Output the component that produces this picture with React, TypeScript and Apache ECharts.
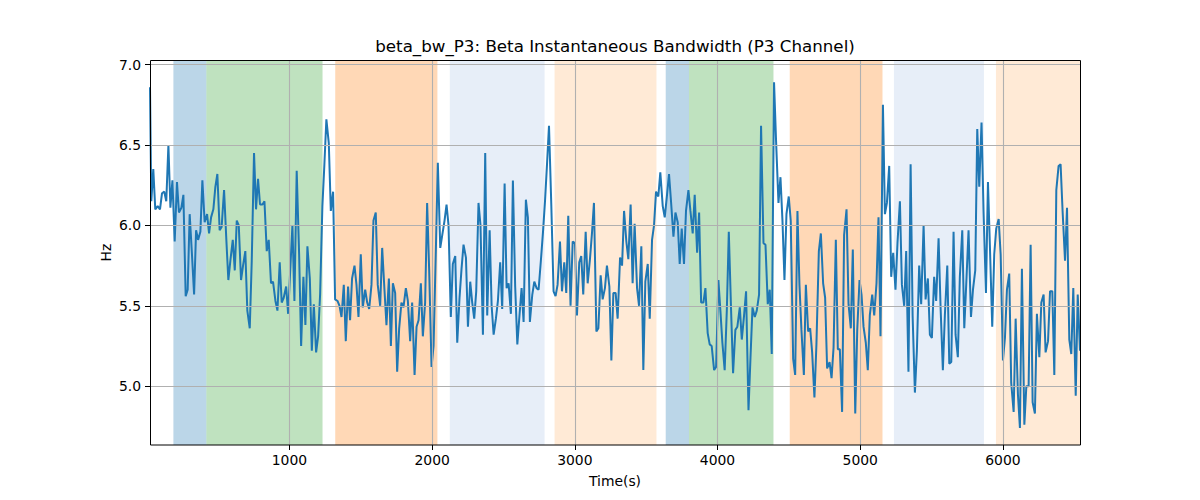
import React, { useEffect, useRef } from "react";
import * as echarts from "echarts";

// [time (s), bandwidth (Hz)]
const betaBw: [number, number][] = [
  [23,6.86],[32,6.15],[46,6.35],[60,6.10],[77,6.12],[93,6.10],[107,6.20],[123,6.21],[137,6.15],[152,6.50],
  [166,6.11],[180,6.28],[196,5.90],[212,6.27],[226,6.08],[243,6.11],[257,6.19],[273,5.56],[287,5.60],[301,6.07],
  [317,5.82],[332,5.57],[346,5.97],[360,5.91],[376,5.96],[390,6.28],[406,6.02],[423,6.07],[437,5.95],[451,6.05],
  [467,6.10],[481,6.24],[495,6.32],[511,5.97],[525,5.99],[542,6.22],[558,5.91],[572,5.66],[586,5.78],[603,5.91],
  [617,5.72],[631,6.03],[645,6.00],[661,5.66],[675,5.75],[691,5.84],[705,5.47],[722,5.36],[736,5.78],[752,6.45],
  [766,6.10],[780,6.29],[794,6.13],[811,6.13],[825,6.15],[841,5.84],[855,5.91],[871,5.64],[885,5.65],[902,5.53],
  [916,5.47],[932,5.77],[946,5.52],[960,5.55],[977,5.62],[991,5.45],[1005,5.71],[1021,6.00],[1035,5.53],[1051,6.34],
  [1068,5.82],[1082,5.25],[1098,5.68],
  [1112,5.38],[1126,5.87],[1143,5.67],[1157,5.22],[1171,5.51],[1187,5.21],[1201,5.31],[1215,5.57],[1231,6.12],[1245,6.38],
  [1259,6.66],[1276,6.51],[1290,6.09],[1306,6.21],[1320,5.54],[1337,5.53],[1351,5.50],[1365,5.43],[1381,5.63],[1395,5.28],
  [1411,5.62],[1425,5.41],[1439,5.67],[1456,5.75],[1470,5.63],[1484,5.43],[1500,5.82],[1514,5.49],[1531,5.60],[1545,5.52],
  [1559,5.48],[1575,5.63],[1589,6.03],[1605,6.08],[1619,5.63],[1636,5.50],[1650,5.86],[1666,5.60],[1680,5.38],[1697,5.67],
  [1711,5.25],[1725,5.64],[1741,5.58],[1755,5.09],[1769,5.36],[1785,5.52],[1799,5.49],[1816,5.61],[1830,5.53],[1846,5.28],
  [1860,5.52],[1877,5.07],[1891,5.37],[1905,5.41],[1921,5.64],[1935,5.31],[1951,5.52],[1965,6.14],[1979,5.73],[1996,5.12],
  [2010,5.25],[2026,5.84],[2040,6.39],[2057,5.86],[2071,5.94],[2087,6.03],[2101,6.13],[2115,6.00],[2131,5.43],[2145,5.76],
  [2162,5.81],[2176,5.27],[2192,5.55],[2206,5.73],[2220,5.88],
  [2237,5.80],[2251,5.37],[2267,5.65],[2281,5.52],[2295,5.42],[2309,5.59],[2325,6.14],[2339,6.00],[2356,5.32],[2372,6.45],
  [2386,5.44],[2403,5.97],[2417,5.50],[2431,5.32],[2447,5.42],[2461,5.53],[2477,5.77],[2491,5.48],[2508,6.26],[2522,5.61],
  [2536,5.64],[2552,5.45],[2566,6.28],[2582,5.62],[2597,5.26],[2613,5.45],[2627,5.61],[2641,5.40],[2657,6.16],[2671,6.05],
  [2685,5.40],[2702,5.57],[2716,5.65],[2732,5.61],[2746,5.60],[2762,5.78],[2777,5.96],[2791,6.15],[2805,6.38],[2819,6.62],
  [2835,6.13],[2851,5.59],[2865,5.56],[2879,5.63],[2896,5.90],[2910,5.59],[2926,5.77],[2940,5.58],[2954,6.06],[2970,5.50],
  [2985,5.90],[3001,5.89],[3015,5.44],[3031,5.77],[3045,5.81],[3059,5.57],[3076,5.96],[3090,5.64],[3106,5.79],[3120,5.95],
  [3134,6.14],[3151,5.34],[3165,5.36],[3181,5.69],[3195,5.54],[3211,5.61],[3225,5.75],[3242,5.62],[3256,5.16],[3270,5.58],
  [3286,5.58],[3300,5.42],[3317,5.80],[3331,5.75],[3345,6.09],
  [3361,5.90],[3375,5.79],[3391,6.13],[3405,5.64],[3419,6.01],[3436,5.61],[3450,5.50],[3466,5.87],[3480,5.10],[3494,5.65],
  [3511,5.76],[3525,5.42],[3541,5.91],[3555,6.00],[3569,6.21],[3585,6.18],[3599,6.33],[3616,6.12],[3630,6.05],[3646,6.19],
  [3660,6.32],[3674,6.15],[3691,5.93],[3705,6.08],[3721,6.02],[3735,5.76],[3749,5.98],[3765,5.76],[3779,6.09],[3796,6.22],
  [3810,6.09],[3826,5.95],[3840,6.19],[3857,5.83],[3871,6.08],[3885,5.52],[3901,5.52],[3915,5.61],[3931,5.33],[3945,5.26],
  [3959,5.25],[3976,5.10],[3990,5.12],[4006,5.66],[4020,5.47],[4034,5.27],[4050,5.10],[4065,5.47],[4079,5.96],[4095,5.47],
  [4109,5.08],[4125,5.35],[4139,5.37],[4156,5.49],[4170,5.29],[4186,5.44],[4200,5.59],[4217,4.85],[4231,5.18],[4245,5.49],
  [4261,5.43],[4275,5.47],[4291,5.57],[4305,6.62],[4322,5.89],[4336,5.88],[4352,5.51],[4366,5.60],[4380,5.20],[4396,6.89],
  [4410,6.53],[4427,6.14],[4441,6.30],[4455,6.03],[4469,5.66],
  [4483,6.07],[4499,6.18],[4513,6.03],[4530,5.17],[4544,5.07],[4560,6.09],[4574,5.63],[4588,5.35],[4605,5.07],[4619,5.63],
  [4635,5.34],[4649,5.36],[4663,5.21],[4679,4.93],[4693,5.26],[4710,5.84],[4724,5.95],[4740,5.64],[4754,5.55],[4768,5.11],
  [4785,5.15],[4799,5.05],[4813,5.24],[4829,5.91],[4843,5.23],[4857,5.23],[4873,4.84],[4887,5.94],[4904,6.10],[4918,5.51],
  [4934,5.36],[4948,5.85],[4965,4.83],[4979,5.35],[4995,5.66],[5009,5.57],[5023,5.37],[5039,5.27],[5053,5.10],[5067,5.44],
  [5084,5.57],[5098,5.44],[5114,5.64],[5128,6.05],[5142,5.31],[5159,6.75],[5173,6.07],[5187,6.14],[5203,6.37],[5217,5.68],
  [5231,5.83],[5247,5.60],[5261,5.89],[5278,6.15],[5292,5.63],[5308,5.50],[5322,5.84],[5338,5.09],[5353,6.38],[5367,5.44],
  [5383,4.96],[5397,5.22],[5413,5.75],[5427,5.51],[5444,6.00],[5458,5.54],[5474,5.67],[5488,5.32],[5502,5.30],[5518,5.68],
  [5532,5.53],[5549,5.92],[5563,5.49],[5579,5.10],
  [5593,5.44],[5610,5.75],[5624,5.14],[5638,5.15],[5654,5.96],[5668,5.32],[5684,5.18],[5698,5.68],[5715,5.97],[5729,5.36],
  [5745,5.68],[5759,5.97],[5776,5.43],[5790,5.60],[5806,5.72],[5820,6.60],[5834,6.24],[5850,6.64],[5864,6.09],[5881,5.58],
  [5895,6.27],[5909,5.86],[5925,5.37],[5939,5.82],[5953,5.98],[5970,6.04],[5984,5.82],[6000,5.16],[6014,5.30],[6028,5.60],
  [6044,5.70],[6058,5.02],[6075,4.84],[6089,5.42],[6105,4.95],[6119,4.74],[6133,5.73],[6150,4.76],[6164,5.00],[6180,5.00],
  [6194,5.88],[6208,4.90],[6224,4.83],[6238,5.45],[6255,5.18],[6269,5.52],[6285,5.57],[6299,5.21],[6316,5.28],[6330,5.59],
  [6346,5.59],[6360,5.07],[6374,6.22],[6390,6.37],[6404,6.38],[6418,6.09],[6435,5.78],[6449,6.11],[6465,5.29],[6479,5.20],
  [6493,5.61],[6510,4.94],[6524,5.57],[6540,5.22],
];

// shaded segments: [start (s), end (s), kind]
const segments: [number, number, string][] = [
  [187, 418, "blue"],
  [418, 1232, "green"],
  [1321, 2037, "orange"],
  [2124, 2788, "lightblue"],
  [2858, 3572, "lightorange"],
  [3637, 3800, "blue"],
  [3800, 4392, "green"],
  [4506, 5156, "orange"],
  [5236, 5867, "lightblue"],
  [5951, 6540, "lightorange"],
];

const xTicks = [1000, 2000, 3000, 4000, 5000, 6000];
const yTicks = [5.0, 5.5, 6.0, 6.5, 7.0];
const xRange = [23, 6540];
const yRange = [4.634, 7.029];

const segmentColors: Record<string, string> = {
  blue: "rgba(31,119,180,0.3)",
  green: "rgba(44,160,44,0.3)",
  orange: "rgba(255,127,14,0.3)",
  lightblue: "rgba(174,199,232,0.3)",
  lightorange: "rgba(255,187,120,0.3)",
};

const FONT = "DejaVu Sans";

export default function App() {
  const ref = useRef<HTMLDivElement>(null);
  useEffect(() => {
    if (!ref.current) return;
    const chart = echarts.init(ref.current, undefined, { renderer: "svg" });
    const txt = (text: string, x: number, y: number, size: number, rotation = 0) => ({
      type: "text",
      x,
      y,
      rotation,
      z: 200,
      style: {
        text,
        fill: "#000",
        fontSize: size,
        fontFamily: FONT,
        align: "center",
        verticalAlign: "middle",
        textAlign: "center",
        textVerticalAlign: "middle",
      },
    });
    chart.setOption({
      animation: false,
      backgroundColor: "#fff",
      grid: { left: 150, right: 120, top: 60, bottom: 55, containLabel: false },
      xAxis: {
        type: "value",
        min: xRange[0],
        max: xRange[1],
        splitLine: { show: false },
        axisLine: { show: false },
        axisTick: { show: true, length: 5, customValues: xTicks, lineStyle: { color: "#000", width: 1 } },
        axisLabel: {
          customValues: xTicks,
          color: "#000",
          fontSize: 13.9,
          fontFamily: FONT,
          margin: 8,
          formatter: (v: number) => String(v),
        },
      },
      yAxis: {
        type: "value",
        min: yRange[0],
        max: yRange[1],
        splitLine: { show: false },
        axisLine: { show: false },
        axisTick: { show: true, length: 5, customValues: yTicks, lineStyle: { color: "#000", width: 1 } },
        axisLabel: {
          customValues: yTicks,
          color: "#000",
          fontSize: 13.9,
          fontFamily: FONT,
          margin: 9,
          formatter: (v: number) => v.toFixed(1),
        },
      },
      graphic: [
        txt("beta_bw_P3: Beta Instantaneous Bandwidth (P3 Channel)", 615, 46, 16.7),
        txt("Time(s)", 615, 481, 13.9),
        txt("Hz", 106, 252.5, 13.9, Math.PI / 2),
        {
          type: "rect",
          z: 150,
          shape: { x: 150.5, y: 60.5, width: 930, height: 384.5 },
          style: { fill: "none", stroke: "#000", lineWidth: 1 },
        },
      ],
      series: [
        {
          type: "line",
          z: 1,
          data: [],
          silent: true,
          markArea: {
            silent: true,
            data: segments.map((s) => [
              { xAxis: s[0], itemStyle: { color: segmentColors[s[2]], borderWidth: 0 } },
              { xAxis: s[1] },
            ]),
          },
        },
        {
          type: "line",
          z: 2,
          data: [],
          silent: true,
          markLine: {
            silent: true,
            symbol: ["none", "none"],
            label: { show: false },
            lineStyle: { color: "#b0b0b0", width: 1.1, type: "solid" },
            data: [
              ...xTicks.map((v) => ({ xAxis: v })),
              ...yTicks.map((v) => ({ yAxis: v })),
            ],
          },
        },
        {
          type: "line",
          z: 3,
          data: betaBw,
          showSymbol: false,
          symbol: "none",
          lineStyle: { color: "#1f77b4", width: 2 },
          itemStyle: { color: "#1f77b4" },
        },
      ],
    });
    return () => chart.dispose();
  }, []);
  return (
    <div
      ref={ref}
      style={{ position: "fixed", left: 0, top: 0, width: 1200, height: 500 }}
    />
  );
}
